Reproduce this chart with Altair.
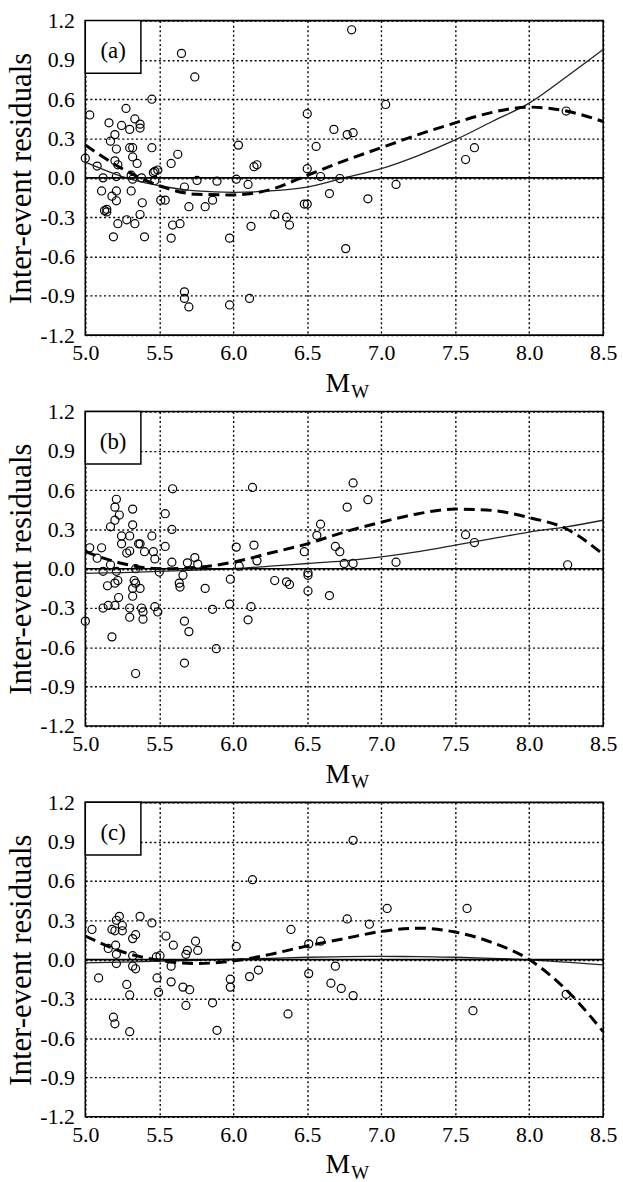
import altair as alt
import pandas as pd

# ---------------- data ----------------
# Panel (a)
a_mw = [5.00, 5.03, 5.08, 5.12, 5.11, 5.16, 5.17, 5.20, 5.21, 5.20, 5.22, 5.245, 5.275, 5.30, 5.30, 5.32,
        5.32, 5.335, 5.37, 5.37, 5.35, 5.31, 5.38, 5.32, 5.21, 5.18, 5.21, 5.21, 5.145, 5.145, 5.13, 5.22,
        5.19, 5.28, 5.335, 5.37, 5.385, 5.40, 5.31, 5.45, 5.45, 5.47, 5.49, 5.46, 5.47, 5.51, 5.54, 5.58,
        5.625, 5.59, 5.64, 5.58, 5.67, 5.70, 5.755, 5.81, 5.86, 5.89, 5.975, 6.02, 6.035, 6.10, 6.12, 5.74,
        5.65, 5.67, 5.67, 5.70, 5.975, 6.11, 6.14, 6.16, 6.28, 6.36, 6.38, 6.48, 6.50, 6.50, 6.50, 6.56,
        6.80, 6.59, 6.65, 6.72, 6.68, 6.77, 6.81, 7.03, 6.91, 7.10, 6.76, 7.57, 7.63, 8.25]
a_res = [0.15, 0.48, 0.09, 0.00, -0.10, 0.42, 0.28, 0.33, 0.22, 0.13, 0.10, 0.40, 0.53, 0.37, 0.23, 0.23,
         0.16, 0.45, 0.41, 0.38, 0.11, 0.02, 0.00, -0.01, 0.01, -0.14, -0.10, -0.175, -0.24, -0.26, -0.25, -0.35,
         -0.45, -0.32, -0.35, -0.28, -0.19, -0.45, -0.10, 0.60, 0.23, 0.05, 0.06, 0.04, -0.02, -0.17, -0.17, 0.11,
         0.18, -0.36, -0.35, -0.46, -0.07, -0.22, -0.02, -0.22, -0.17, -0.025, -0.46, -0.01, 0.25, -0.05, -0.37, 0.77,
         0.95, -0.87, -0.92, -0.985, -0.97, -0.92, 0.085, 0.10, -0.28, -0.30, -0.36, -0.20, -0.20, 0.49, 0.07, 0.24,
         1.13, 0.01, -0.12, -0.005, 0.37, 0.33, 0.345, 0.56, -0.16, -0.05, -0.54, 0.14, 0.23, 0.51]

# Panel (b)
b_mw = [5.00, 5.03, 5.11, 5.08, 5.12, 5.17, 5.21, 5.22, 5.20, 5.15, 5.12, 5.155, 5.20, 5.225, 5.18, 5.17,
        5.21, 5.20, 5.23, 5.20, 5.32, 5.32, 5.245, 5.30, 5.245, 5.28, 5.30, 5.36, 5.37, 5.40, 5.45, 5.46,
        5.47, 5.54, 5.585, 5.54, 5.585, 5.59, 5.33, 5.34, 5.32, 5.37, 5.32, 5.30, 5.30, 5.38, 5.39, 5.39,
        5.47, 5.49, 5.34, 5.50, 5.34, 5.635, 5.64, 5.66, 5.69, 5.74, 5.76, 5.67, 5.70, 5.67, 5.81, 5.86,
        5.885, 5.98, 5.975, 6.02, 6.04, 6.10, 6.12, 6.13, 6.14, 6.16, 6.28, 6.36, 6.38, 6.48, 6.505, 6.505,
        6.505, 6.565, 6.59, 6.69, 6.72, 6.75, 6.81, 7.10, 6.65, 6.81, 6.91, 6.77, 7.57, 7.63, 8.26]
b_res = [-0.40, 0.16, 0.16, 0.08, -0.02, 0.03, -0.02, -0.09, -0.11, -0.13, -0.30, -0.28, -0.28, -0.22, -0.52, 0.32,
         0.53, 0.47, 0.41, 0.37, 0.455, 0.335, 0.25, 0.25, 0.19, 0.12, 0.135, 0.19, 0.19, 0.13, 0.25, 0.13,
         0.075, 0.42, 0.30, 0.17, 0.05, 0.61, -0.09, -0.11, -0.15, -0.15, -0.21, -0.30, -0.37, -0.30, -0.33, -0.385,
         -0.29, -0.33, -0.80, -0.025, 0.00, -0.11, -0.14, -0.05, 0.045, 0.085, 0.035, -0.40, -0.48, -0.72, -0.15, -0.31,
         -0.61, -0.08, -0.27, 0.165, 0.02, -0.39, -0.29, 0.62, 0.18, 0.06, -0.09, -0.10, -0.12, 0.13, -0.03, -0.05,
         -0.17, 0.255, 0.34, 0.17, 0.13, 0.04, 0.04, 0.05, -0.205, 0.655, 0.527, 0.47, 0.26, 0.20, 0.03]

# Panel (c)
c_mw = [5.045, 5.09, 5.18, 5.20, 5.21, 5.23, 5.25, 5.25, 5.34, 5.32, 5.37, 5.45, 5.155, 5.205, 5.21, 5.21,
        5.32, 5.32, 5.34, 5.28, 5.30, 5.19, 5.20, 5.30, 5.48, 5.505, 5.545, 5.595, 5.485, 5.495, 5.58, 5.58,
        5.66, 5.705, 5.68, 5.68, 5.69, 5.745, 5.76, 5.86, 5.89, 5.98, 5.98, 6.02, 6.11, 6.13, 6.17, 6.39,
        6.37, 6.51, 6.51, 6.59, 6.81, 6.77, 6.92, 7.04, 7.58, 6.69, 6.66, 6.73, 6.81, 7.62, 8.25]
c_res = [0.23, -0.14, 0.23, 0.22, 0.30, 0.33, 0.26, 0.22, 0.19, 0.16, 0.33, 0.28, 0.085, 0.11, 0.04, -0.03,
         0.03, -0.05, -0.07, -0.19, -0.27, -0.44, -0.49, -0.55, 0.02, 0.03, 0.18, 0.11, -0.14, -0.25, -0.05, -0.17,
         -0.21, -0.23, -0.35, 0.04, 0.07, 0.14, 0.07, -0.33, -0.54, -0.15, -0.21, 0.10, -0.13, 0.61, -0.08, 0.23,
         -0.415, 0.12, -0.107, 0.14, 0.91, 0.31, 0.27, 0.39, 0.39, -0.05, -0.18, -0.22, -0.275, -0.39, -0.265]

# Fitted curves, read at these magnitudes
curve_mw = [5.0, 5.25, 5.5, 5.75, 6.0, 6.25, 6.5, 6.75, 7.0, 7.25, 7.5, 7.75, 8.0, 8.25, 8.5]
a_dashed = [0.25, 0.07, -0.06, -0.125, -0.13, -0.09, 0.02, 0.13, 0.23, 0.33, 0.42, 0.50, 0.54, 0.51, 0.43]
a_solid = [0.12, 0.01, -0.06, -0.10, -0.11, -0.10, -0.07, 0.00, 0.07, 0.17, 0.29, 0.43, 0.57, 0.77, 0.98]
b_dashed = [0.13, 0.04, 0.00, 0.01, 0.05, 0.12, 0.19, 0.28, 0.355, 0.42, 0.455, 0.445, 0.39, 0.305, 0.11]
b_solid = [-0.035, -0.03, -0.02, -0.01, 0.00, 0.02, 0.04, 0.06, 0.09, 0.13, 0.18, 0.23, 0.28, 0.32, 0.37]
c_dashed = [0.18, 0.06, -0.005, -0.03, -0.01, 0.04, 0.105, 0.16, 0.215, 0.24, 0.21, 0.13, 0.00, -0.23, -0.55]
c_solid = [-0.025, -0.02, -0.012, -0.005, 0.003, 0.01, 0.018, 0.022, 0.024, 0.023, 0.018, 0.01, -0.002, -0.02, -0.04]

x_ticks = [5.0, 5.5, 6.0, 6.5, 7.0, 7.5, 8.0, 8.5]
y_ticks = [-1.2, -0.9, -0.6, -0.3, 0.0, 0.3, 0.6, 0.9, 1.2]

# ---------------- chart ----------------
FONT = "Liberation Serif"
W, H = 522, 317
LBL = "replace(format(datum.value, '.1f'), '\u2212', '-')"

xs = alt.Scale(domain=[5.0, 8.5], nice=False, zero=False)
ys = alt.Scale(domain=[-1.2, 1.2], nice=False, zero=False)
xaxis = alt.Axis(values=x_ticks, labelExpr=LBL, title=None, grid=True,
                 ticks=False, tickSize=0, domain=False, labelPadding=8,
                 labelFont=FONT, labelFontSize=22, labelColor="black",
                 gridColor="black", gridDash=[2, 2.6], gridWidth=1.4, gridOpacity=1,
                 labelFlush=False, labelOverlap=False)
yaxis = alt.Axis(values=y_ticks, labelExpr=LBL, title="Inter-event residuals", grid=True,
                 ticks=False, tickSize=0, domain=False, labelPadding=11,
                 labelFont=FONT, labelFontSize=22, labelColor="black",
                 titleFont=FONT, titleFontSize=31, titleFontWeight="normal",
                 titleColor="black", titlePadding=2,
                 gridColor="black", gridDash=[2, 2.6], gridWidth=1.4, gridOpacity=1,
                 labelFlush=False, labelOverlap=False)

one = pd.DataFrame({"k": [0]})


def panel(tag, mw, res, dashed, solid):
    pts = pd.DataFrame({"Mw": mw, "res": res})
    cur = pd.DataFrame({"Mw": curve_mw, "dashed": dashed, "solid": solid})

    points = alt.Chart(pts).mark_point(shape="circle", filled=False, size=66,
                                       stroke="black", strokeWidth=1.2, opacity=1).encode(
        x=alt.X("Mw:Q", scale=xs, axis=xaxis),
        y=alt.Y("res:Q", scale=ys, axis=yaxis),
    )
    solid_line = alt.Chart(cur).mark_line(color="#222222", strokeWidth=1.3,
                                          interpolate="monotone").encode(
        x=alt.X("Mw:Q", scale=xs, axis=xaxis),
        y=alt.Y("solid:Q", scale=ys, axis=yaxis),
    )
    dashed_line = alt.Chart(cur).mark_line(color="black", strokeWidth=3,
                                           strokeDash=[11, 6],
                                           interpolate="monotone").encode(
        x=alt.X("Mw:Q", scale=xs, axis=xaxis),
        y=alt.Y("dashed:Q", scale=ys, axis=yaxis),
    )
    zero = alt.Chart(one).mark_rule(color="black", strokeWidth=1.6).encode(
        x=alt.value(0), x2=alt.value(W), y=alt.datum(0.0, scale=ys, axis=yaxis)
    )
    box = alt.Chart(one).mark_rect(fill="white", stroke="black", strokeWidth=1.5).encode(
        x=alt.value(0), x2=alt.value(56), y=alt.value(0), y2=alt.value(53)
    )
    label = alt.Chart(one).mark_text(font=FONT, fontSize=23, color="black",
                                     align="center", baseline="middle").encode(
        x=alt.value(28), y=alt.value(31), text=alt.value(tag)
    )
    m_txt = alt.Chart(one).mark_text(font=FONT, fontSize=28, color="black",
                                     align="right", baseline="alphabetic").encode(
        x=alt.value(267), y=alt.value(H + 57), text=alt.value("M")
    )
    w_txt = alt.Chart(one).mark_text(font=FONT, fontSize=19, color="black",
                                     align="left", baseline="alphabetic").encode(
        x=alt.value(268), y=alt.value(H + 63), text=alt.value("W")
    )
    return alt.layer(points, solid_line, dashed_line, zero, box, label, m_txt, w_txt).properties(
        width=W, height=H
    )


pa = panel("(a)", a_mw, a_res, a_dashed, a_solid)
pb = panel("(b)", b_mw, b_res, b_dashed, b_solid)
pc = panel("(c)", c_mw, c_res, c_dashed, c_solid)

chart = alt.vconcat(pa, pb, pc, spacing=77, bounds="flush").properties(
    padding={"left": 5, "top": 4, "right": 5, "bottom": 5},
    background="white",
).configure_view(stroke="black", strokeWidth=1.6)

chart.save("out.html", embed_options={"renderer": "svg", "actions": False})
